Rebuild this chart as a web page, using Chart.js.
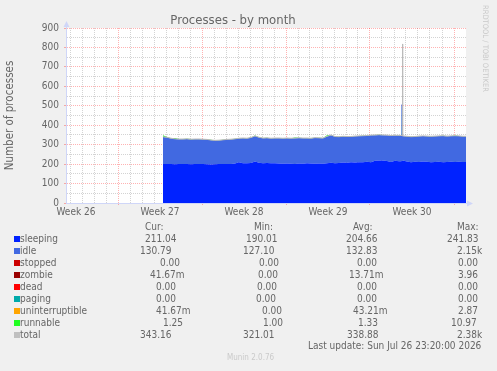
<!DOCTYPE html>
<html lang="en">
<head>
<meta charset="UTF-8">
<title>Processes - by month</title>
<style>
  body { margin: 0; background: #f0f0f0; }
  .quadro { position: relative; width: 497px; height: 371px; font-family: 'DejaVu Sans Condensed', 'DejaVu Sans', sans-serif; color: #666; }
  .grafico-box { position: absolute; left: 0; top: 0; width: 497px; height: 371px; }
  .txt { position: absolute; font-size: 10px; line-height: 12px; white-space: pre; }
  .sw { position: absolute; width: 6px; height: 6px; }
  .rrd { position: absolute; left: 481px; top: 5px; writing-mode: vertical-rl; font-size: 7.5px; line-height: 9px; color: #c8c8c8; }
  .munin { position: absolute; left: 227px; top: 353px; font-size: 8px; line-height: 10px; color: #cacaca; }
</style>
</head>
<body>
<div class="quadro" id="quadro">
  <div class="grafico-box"><canvas id="grafico"></canvas></div>
  <div class="rrd">RRDTOOL / TOBI OETIKER</div>
  <div class="munin">Munin 2.0.76</div>
</div>

<script src="https://cdn.jsdelivr.net/npm/chart.js"></script>
<script>
// samples every 8 hours, data starts early in week 27 (x axis is in days)
const firstDay = 8.083;
const stepDay = 1 / 3;

const sleeping = [201, 200, 201, 199, 200, 201, 200, 199, 200, 201,
  200, 199, 198, 199, 200, 200, 201, 200, 203, 210,
  205, 204, 206, 213, 207, 205, 206, 204, 205, 203,
  202, 203, 202, 201, 203, 202, 204, 203, 202, 203,
  202, 205, 207, 205, 206, 208, 207, 209, 208, 210,
  209, 212, 210, 217, 219, 218, 216, 211, 217, 215,
  219, 213, 210, 212, 211, 214, 212, 210, 211, 212,
  210, 211, 212, 211, 212, 211, 211];
const idle = [139, 137, 131, 130, 128, 127, 129, 128, 128, 127,
  127, 127, 125, 122, 122, 124, 125, 127, 126, 122,
  128, 128, 130, 131, 130, 128, 128, 128, 128, 130,
  130, 130, 130, 132, 131, 131, 129, 129, 133, 131,
  131, 137, 142, 136, 134, 134, 134, 132, 135, 134,
  136, 134, 138, 132, 131, 131, 132, 135, 130, 132,
  125, 129, 130, 129, 132, 130, 131, 132, 132, 132,
  135, 132, 132, 134, 132, 131, 131];
const runnable = [8, 3, 1, 5, 1, 1, 1, 2, 1, 1,
  1, 1, 2, 1, 1, 1, 1, 1, 2, 1,
  1, 1, 1, 3, 1, 1, 1, 1, 1, 1,
  1, 1, 1, 4, 1, 1, 1, 2, 1, 1,
  1, 6, 1, 1, 1, 2, 1, 1, 1, 1,
  1, 1, 2, 1, 1, 1, 1, 1, 1, 1,
  1, 1, 1, 1, 2, 1, 1, 1, 1, 1,
  1, 1, 1, 2, 1, 1, 1];
const total = [341, 338, 333, 330, 329, 329, 330, 328, 329, 329,
  328, 327, 324, 322, 323, 325, 327, 328, 330, 333,
  334, 333, 337, 345, 338, 334, 335, 333, 334, 334,
  333, 334, 333, 334, 335, 334, 334, 333, 336, 335,
  334, 343, 350, 342, 341, 343, 342, 342, 344, 345,
  346, 347, 349, 350, 351, 350, 349, 347, 348, 348,
  345, 343, 341, 342, 344, 345, 344, 343, 344, 345,
  346, 344, 345, 346, 345, 343, 343];

// short burst of processes on day 28 (between two 8h samples)
const burstDays = [27.93, 27.95, 28.05, 28.07];
const burstSleeping = [215, 216, 216, 218];
const burstIdle = [131, 290, 290, 127];
const burstRunnable = [1, 1, 1, 1];
const totalBurstDays = [28.0, 28.04, 28.045, 28.06];
const burstTotal = [347, 818, 818, 346];

const weekLabels = ['Week 26', 'Week 27', 'Week 28', 'Week 29', 'Week 30'];

// legend table
const legendNames = ['sleeping', 'idle', 'stopped', 'zombie', 'dead', 'paging', 'uninterruptible', 'runnable', 'total'];
const legendColors = ['#0022ff', '#4169e1', '#cc0000', '#990000', '#ff0000', '#00aaaa', '#ffa500', '#22ff22', '#c0c0c0'];
const curVals = ['211.04', '130.79', '0.00', '41.67m', '0.00', '0.00', '41.67m', '1.25', '343.16'];
const minVals = ['190.01', '127.10', '0.00', '0.00', '0.00', '0.00', '0.00', '1.00', '321.01'];
const avgVals = ['204.66', '132.83', '0.00', '13.71m', '0.00', '0.00', '43.21m', '1.33', '338.88'];
const maxVals = ['241.83', '2.15k', '0.00', '3.96', '0.00', '0.00', '2.87', '10.97', '2.38k'];

const FONTE = "'DejaVu Sans Condensed', 'DejaVu Sans', sans-serif";
const corMajor = 'rgba(255, 0, 0, 0.3)';
const corMinor = 'rgba(128, 128, 128, 0.35)';
const corEixo = '#cfd6f8';

function pontos(base, burst, dias) {
  const pts = base.map((v, i) => ({ x: firstDay + i * stepDay, y: v }));
  dias.forEach((d, i) => pts.push({ x: d, y: burst[i] }));
  return pts.sort((a, b) => a.x - b.x);
}

// white canvas behind the plot
const fundo = {
  id: 'fundo',
  beforeDraw(chart) {
    const { ctx, chartArea: a } = chart;
    ctx.save();
    ctx.fillStyle = '#ffffff';
    ctx.fillRect(a.left, a.top, a.right - a.left, a.bottom - a.top);
    ctx.restore();
  }
};

// little arrows at the end of both axes (rrdtool style)
const setas = {
  id: 'setas',
  afterDraw(chart) {
    const { ctx, chartArea: a } = chart;
    const x0 = Math.round(a.left) + 0.5;
    const y0 = Math.round(a.bottom) + 0.5;
    ctx.save();
    ctx.strokeStyle = corEixo;
    ctx.fillStyle = corEixo;
    ctx.lineWidth = 1;
    ctx.beginPath();
    ctx.moveTo(x0, a.top); ctx.lineTo(x0, a.top - 3);
    ctx.moveTo(a.right, y0); ctx.lineTo(a.right + 3, y0);
    ctx.stroke();
    ctx.beginPath();
    ctx.moveTo(x0 - 3, a.top - 1); ctx.lineTo(x0 + 3, a.top - 1); ctx.lineTo(x0, a.top - 7); ctx.closePath();
    ctx.fill();
    ctx.beginPath();
    ctx.moveTo(a.right + 1, y0 - 3); ctx.lineTo(a.right + 1, y0 + 3); ctx.lineTo(a.right + 7, y0); ctx.closePath();
    ctx.fill();
    ctx.restore();
  }
};

const comum = { pointRadius: 0, tension: 0, borderWidth: 1, borderColor: 'rgba(0,0,0,0)' };

new Chart(document.getElementById('grafico'), {
  type: 'line',
  data: {
    datasets: [
      { ...comum, label: 'sleeping', data: pontos(sleeping, burstSleeping, burstDays), backgroundColor: '#0022ff', fill: 'origin', stack: 'proc' },
      { ...comum, label: 'idle', data: pontos(idle, burstIdle, burstDays), backgroundColor: '#4169e1', fill: '-1', stack: 'proc' },
      { ...comum, label: 'runnable', data: pontos(runnable, burstRunnable, burstDays), backgroundColor: '#22ff22', fill: '-1', stack: 'proc' },
      { ...comum, label: 'total', data: pontos(total, burstTotal, totalBurstDays), borderColor: '#b8b8b8', fill: false, stack: 'total', order: -1 }
    ]
  },
  options: {
    responsive: true,
    maintainAspectRatio: false,
    animation: false,
    layout: { padding: { left: 0, right: 31, top: 0, bottom: 0 } },
    scales: {
      x: {
        type: 'linear',
        min: 0,
        max: 400 / 12,
        z: 1,
        afterFit: s => { s.height = 168; },
        afterBuildTicks: s => {
          const t = [];
          for (let k = 0; k < 33; k++) t.push({ value: 1 / 3 + k, semana: (k % 7) === 4 });
          weekLabels.forEach((w, i) => t.push({ value: 5 / 6 + 7 * i, nome: w }));
          s.ticks = t.sort((a, b) => a.value - b.value);
        },
        ticks: {
          autoSkip: false,
          maxRotation: 0,
          minRotation: 0,
          padding: 1,
          color: '#666',
          font: { family: FONTE, size: 10 },
          callback: (v, i, ticks) => ticks[i].nome || ''
        },
        grid: {
          color: c => c.tick && c.tick.nome ? 'rgba(0,0,0,0)' : (c.tick && c.tick.semana ? corMajor : corMinor),
          tickLength: 2,
          tickColor: c => c.tick && c.tick.semana ? corMajor : 'rgba(0,0,0,0)'
        },
        border: { color: corEixo, dash: [1, 1] }
      },
      y: {
        stacked: true,
        min: 0,
        max: 900,
        z: 1,
        afterFit: s => { s.width = 66; },
        ticks: {
          stepSize: 50,
          autoSkip: false,
          padding: 5,
          color: '#666',
          font: { family: FONTE, size: 10 },
          callback: v => (v % 100 === 0 ? String(v) : '')
        },
        grid: {
          color: c => c.tick && c.tick.value % 100 === 0 ? corMajor : corMinor,
          tickLength: 2,
          tickColor: c => c.tick && c.tick.value % 100 === 0 ? corMajor : 'rgba(0,0,0,0)'
        },
        border: { color: corEixo, dash: [1, 1] },
        title: {
          display: true,
          text: 'Number of processes',
          color: '#666',
          font: { family: FONTE, size: 11.5 },
          padding: { top: 3, bottom: 0 }
        }
      }
    },
    plugins: {
      legend: { display: false },
      tooltip: { enabled: false },
      title: {
        display: true,
        text: 'Processes - by month',
        color: '#666',
        font: { family: FONTE, size: 13, weight: 'normal' },
        padding: { top: 12.4, bottom: 0 }
      }
    }
  },
  plugins: [fundo, setas]
});

// legend table below the graph
const quadro = document.getElementById('quadro');
const colX = {
  cur: [145, 140, 160, 150, 156, 156, 156, 163, 140],
  min: [246, 243, 259, 258, 257, 256, 262, 263, 243],
  avg: [346, 346, 357, 349, 357, 357, 353, 358, 347],
  max: [447, 457, 458, 458, 458, 458, 458, 451, 457]
};

function texto(t, x, y) {
  const d = document.createElement('div');
  d.className = 'txt';
  d.style.left = x + 'px';
  d.style.top = (y - 6) + 'px';
  d.textContent = t;
  quadro.appendChild(d);
}

texto('Cur:', 145, 227);
texto('Min:', 254, 227);
texto('Avg:', 353, 227);
texto('Max:', 457, 227);

legendNames.forEach((nome, i) => {
  const y = 239 + i * 12;
  const sw = document.createElement('div');
  sw.className = 'sw';
  sw.style.left = '14px';
  sw.style.top = (y - 3) + 'px';
  sw.style.background = legendColors[i];
  quadro.appendChild(sw);
  texto(nome, 20, y);
  texto(curVals[i], colX.cur[i], y);
  texto(minVals[i], colX.min[i], y);
  texto(avgVals[i], colX.avg[i], y);
  texto(maxVals[i], colX.max[i], y);
});

texto('Last update: Sun Jul 26 23:20:00 2026', 308, 346);
</script>
</body>
</html>
